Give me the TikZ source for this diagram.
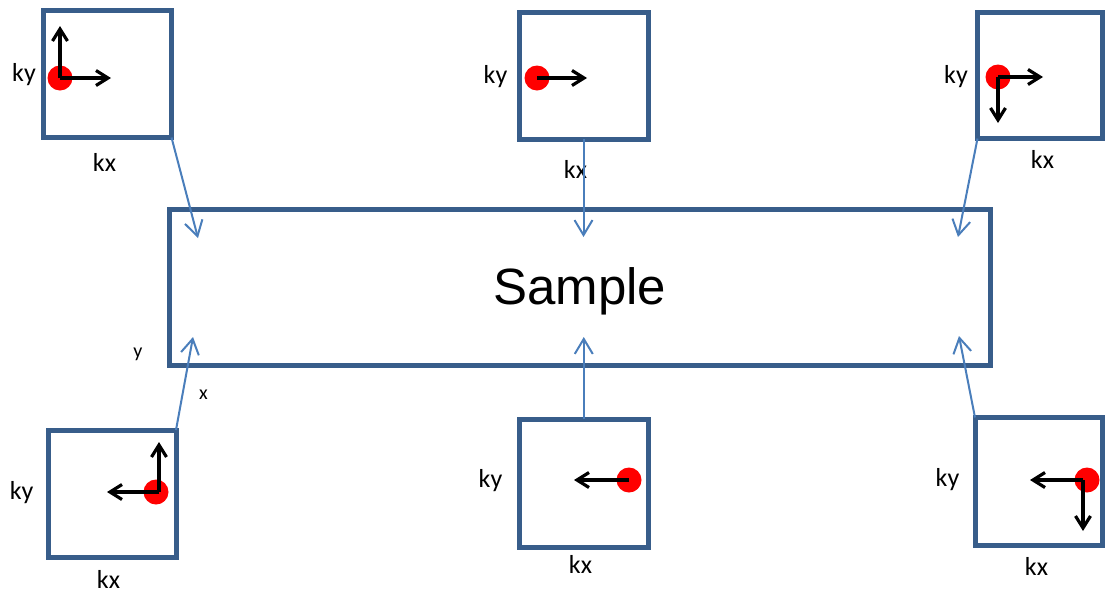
\documentclass[tikz,border=0pt]{standalone}
\usepackage{fontspec}
\setmainfont{Carlito}
\newfontfamily\samplefont{Liberation Sans}
\usetikzlibrary{arrows.meta}
\definecolor{boxblue}{RGB}{56,93,138}
\definecolor{linkblue}{RGB}{74,126,187}
\begin{document}
\begin{tikzpicture}[x=1pt,y=-1pt,
	kbox/.style={draw=boxblue, line width=5pt, inner sep=0pt, outer sep=0pt},
	klabel/.style={font=\fontsize{26}{30}\selectfont, inner sep=0pt},
	axlabel/.style={font=\fontsize{20}{24}\selectfont, inner sep=0pt},
	kdot/.style={circle, fill=red, minimum size=25pt, inner sep=0pt},
	kvec/.style={line width=3.2pt, -{Straight Barb[length=12pt,width=15pt]}},
	link/.style={draw=linkblue, line width=2pt, -{Straight Barb[length=15pt,width=18pt]}}]
	\useasboundingbox (0,0) rectangle (1106,595);
	\foreach 
	\name/\cx/\cy/\w/\h/\kyx/\kyy/\kxx/\kxy
	in
	{
		TL/107.5/73.75/128/127.5/24/75/104.5/162,
		TM/583.5/75.5/129/127/495.5/77/575.5/169,
		TR/1040/75.25/125/126.5/956/77/1042.5/159.5,
		BL/112.25/493.75/127.5/127.5/21.7/492.5/108.5/579,
		BM/583.75/483/128.5/128/490.5/481/580.5/564,
		BR/1038.75/481.25/127.5/127.5/947.5/480/1036.5/566
	}
	{
		\node [kbox, minimum width=\w pt, minimum height=\h pt] (\name) at (\cx,\cy) {};
		\node [klabel] (ky\name) at (\kyx,\kyy) {ky};
		\node [klabel] (kx\name) at (\kxx,\kxy) {kx};
	}
	\node [kbox, minimum width=821.5pt, minimum height=156pt, text height=36pt, text depth=3pt,
		font=\samplefont\fontsize{51}{60}\selectfont] (S) at (579.75,287.5) {Sample};
	\node [axlabel] (ylab) at (138,354) {y};
	\node [axlabel] (xlab) at (203.5,395) {x};
	% beam spots
	\node [kdot] (dTL) at (60,78) {};
	\node [kdot] (dTM) at (537,78) {};
	\node [kdot] (dTR) at (998,77) {};
	\node [kdot] (dBL) at (156,492) {};
	\node [kdot] (dBM) at (629,480) {};
	\node [kdot] (dBR) at (1087,480) {};
	\draw [kvec] (dTL.center) -- ++(0,-52);
	\draw [kvec] (dTL.center) -- ++(51,0);
	\draw [kvec] (dTM.center) -- ++(50,0);
	\draw [kvec] (dTR.center) -- ++(45,0);
	\draw [kvec] (dTR.center) -- ++(0,46);
	\draw [kvec] ([xshift=3pt]dBL.center) -- ++(0,-50);
	\draw [kvec] ([xshift=3pt]dBL.center) -- ++(-52,0);
	\draw [kvec] (dBM.center) -- ++(-55,0);
	\draw [kvec] ([xshift=-4pt]dBR.center) -- ++(-53,0);
	\draw [kvec] ([xshift=-4pt]dBR.center) -- ++(0,51);
	% incidence
	\coordinate (eTL) at (198,238);
	\coordinate (eTM) at (583.5,237);
	\coordinate (eTR) at (958,237);
	\coordinate (eBL) at (193,337);
	\coordinate (eBM) at (583.75,337);
	\coordinate (eBR) at (959,336);
	\draw [link] (TL.south east) -- (eTL);
	\draw [link] (TM.south) -- (eTM);
	\draw [link] (TR.south west) -- (eTR);
	\draw [link] (BL.north east) -- (eBL);
	\draw [link] (BM.north) -- (eBM);
	\draw [link] (BR.north west) -- (eBR);
\end{tikzpicture}
\end{document}
